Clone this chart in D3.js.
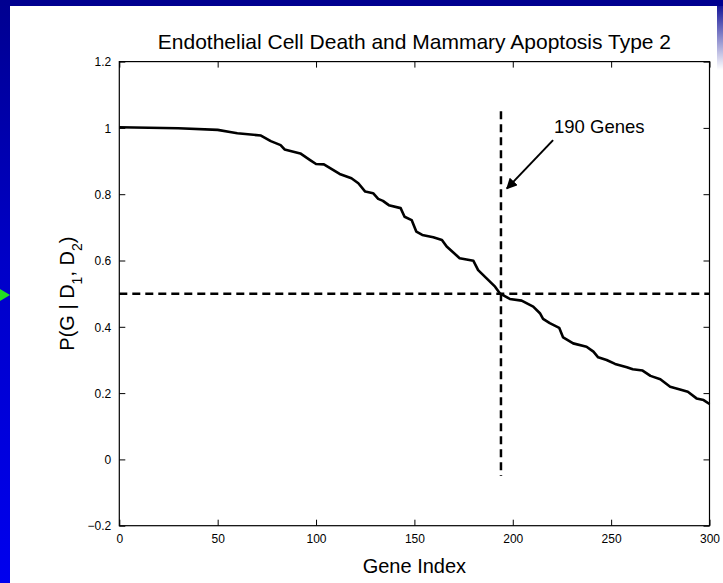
<!DOCTYPE html>
<html>
<head>
<meta charset="utf-8">
<script src="https://cdn.jsdelivr.net/npm/d3@7"></script>
<style>
  html, body { margin: 0; padding: 0; background: #fff; }
  svg { display: block; }
  text { font-family: "Liberation Sans", Arial, Helvetica, sans-serif; fill: #000; }
</style>
</head>
<body>
<svg id="chart" width="723" height="583"></svg>
<script>
// ---- data ----
const geneIndex = [0,30,50,57,60,72,77,82,84,92,97,100,104,112,118,121.5,125,129,131.6,134,137,143,145,148.6,151,154,159.6,164,166.4,173,180,182.4,186.7,191,193.4,198.5,204.5,210.4,213.8,215.4,218.8,223.6,225.6,230.7,237.5,241,243.4,247.7,252,258,261,266,270,275,280,285,289,293.4,297,300];
const probability = [1.002,0.999,0.994,0.987,0.984,0.977,0.960,0.948,0.935,0.923,0.903,0.891,0.890,0.861,0.848,0.833,0.808,0.803,0.786,0.780,0.767,0.758,0.732,0.722,0.687,0.677,0.670,0.662,0.642,0.607,0.599,0.571,0.546,0.521,0.501,0.484,0.479,0.461,0.441,0.424,0.411,0.397,0.368,0.350,0.340,0.325,0.308,0.300,0.288,0.278,0.272,0.268,0.252,0.242,0.219,0.211,0.204,0.184,0.179,0.167];
const xTicks = [0,50,100,150,200,250,300];
const yTicks = [-0.2,0,0.2,0.4,0.6,0.8,1,1.2];
const threshold = 0.5;
const cutoffIndex = 194;
const cutoffYRange = [-0.05, 1.05];
const annotationText = "190 Genes";
const arrowFrom = [220.5, 0.963];
const arrowTo = [197, 0.817];
const titleText = "Endothelial Cell Death and Mammary Apoptosis Type 2";
const xLabelText = "Gene Index";

const svg = d3.select("#chart");
const W = 723, H = 583;

// ---- frame decoration ----
const defs = svg.append("defs");
const lg = defs.append("linearGradient").attr("id","leftbar").attr("x1",0).attr("y1",0).attr("x2",0).attr("y2",1);
lg.append("stop").attr("offset","0%").attr("stop-color","#000090");
lg.append("stop").attr("offset","45%").attr("stop-color","#0000c8");
lg.append("stop").attr("offset","100%").attr("stop-color","#0000ee");
const rg = defs.append("linearGradient").attr("id","rightbar").attr("x1",0).attr("y1",0).attr("x2",0).attr("y2",1);
rg.append("stop").attr("offset","0%").attr("stop-color","#000090");
rg.append("stop").attr("offset","100%").attr("stop-color","#000090").attr("stop-opacity",0);

svg.append("rect").attr("x",0).attr("y",0).attr("width",W).attr("height",H).attr("fill","#fff");
svg.append("rect").attr("x",0).attr("y",0).attr("width",W).attr("height",6).attr("fill","#000090");
svg.append("rect").attr("x",0).attr("y",0).attr("width",10).attr("height",H).attr("fill","url(#leftbar)");
svg.append("rect").attr("x",717).attr("y",0).attr("width",6).attr("height",70).attr("fill","url(#rightbar)");
svg.append("path").attr("d","M0,289 L10,295 L0,301 Z").attr("fill","#22dd22");

// ---- scales ----
const x = d3.scaleLinear().domain([0,300]).range([119.3, 709.5]);
const y = d3.scaleLinear().domain([-0.2,1.2]).range([525.7, 61.6]);

const g = svg.append("g");

// box
g.append("rect").attr("x",x(0)).attr("y",y(1.2)).attr("width",x(300)-x(0)).attr("height",y(-0.2)-y(1.2))
  .attr("fill","none").attr("stroke","#000").attr("stroke-width",1.2);

const tl = 6;
// axes (inward ticks on all sides)
const axB = g.append("g").attr("transform",`translate(0,${y(-0.2)})`)
  .call(d3.axisBottom(x).tickValues(xTicks).tickSize(-tl).tickPadding(tl+3).tickFormat(d3.format("d")));
const axT = g.append("g").attr("transform",`translate(0,${y(1.2)})`)
  .call(d3.axisTop(x).tickValues(xTicks).tickSize(-tl).tickFormat(""));
const axL = g.append("g").attr("transform",`translate(${x(0)},0)`)
  .call(d3.axisLeft(y).tickValues(yTicks).tickSize(-tl).tickPadding(tl+2)
    .tickFormat(d => d < 0 ? "\u2212" + Math.abs(d) : String(+d.toFixed(1))));
const axR = g.append("g").attr("transform",`translate(${x(300)},0)`)
  .call(d3.axisRight(y).tickValues(yTicks).tickSize(-tl).tickFormat(""));
[axB,axT,axL,axR].forEach(a => {
  a.select(".domain").remove();
  a.selectAll("line").attr("stroke","#000").attr("stroke-width",1);
  a.selectAll("text").attr("font-size","12px").attr("font-family","'Liberation Sans', Arial, sans-serif").attr("fill","#000");
});
axB.selectAll("text").attr("dy","0.7em");
axL.selectAll("text").attr("dy","0.35em");

// dashed reference lines
g.append("line").attr("x1",x(0)).attr("x2",x(300)).attr("y1",y(threshold)).attr("y2",y(threshold))
  .attr("stroke","#000").attr("stroke-width",2.5).attr("stroke-dasharray","8,5");
g.append("line").attr("x1",x(cutoffIndex)).attr("x2",x(cutoffIndex)).attr("y1",y(cutoffYRange[1])).attr("y2",y(cutoffYRange[0]))
  .attr("stroke","#000").attr("stroke-width",2.5).attr("stroke-dasharray","8,5");

// curve
const line = d3.line().x((d,i) => x(geneIndex[i])).y(d => y(d));
g.append("path").datum(probability).attr("d", line)
  .attr("fill","none").attr("stroke","#000").attr("stroke-width",2.6).attr("stroke-linejoin","round");

// arrow annotation
defs.append("marker").attr("id","ah").attr("viewBox","0 0 10 10").attr("refX",9).attr("refY",5)
  .attr("markerWidth",11).attr("markerHeight",11).attr("markerUnits","userSpaceOnUse").attr("orient","auto")
  .append("path").attr("d","M0,0 L10,5 L0,10 Z").attr("fill","#000");
g.append("line").attr("x1",x(arrowFrom[0])).attr("y1",y(arrowFrom[1])).attr("x2",x(arrowTo[0])).attr("y2",y(arrowTo[1]))
  .attr("stroke","#000").attr("stroke-width",2).attr("marker-end","url(#ah)");
g.append("text").attr("x",554).attr("y",133).attr("font-size","18.5px").text(annotationText);

// title and labels
svg.append("text").attr("x",(x(0)+x(300))/2).attr("y",49).attr("text-anchor","middle").attr("font-size","21px").text(titleText);
svg.append("text").attr("x",(x(0)+x(300))/2).attr("y",573).attr("text-anchor","middle").attr("font-size","20px").text(xLabelText);
const yl = svg.append("text").attr("transform",`translate(74,${(y(1.2)+y(-0.2))/2}) rotate(-90)`)
  .attr("text-anchor","middle").attr("font-size","20px");
yl.append("tspan").text("P(G | D");
yl.append("tspan").attr("baseline-shift","sub").attr("font-size","14px").text("1");
yl.append("tspan").text(", D");
yl.append("tspan").attr("baseline-shift","sub").attr("font-size","14px").text("2");
yl.append("tspan").text(")");
</script>
</body>
</html>
